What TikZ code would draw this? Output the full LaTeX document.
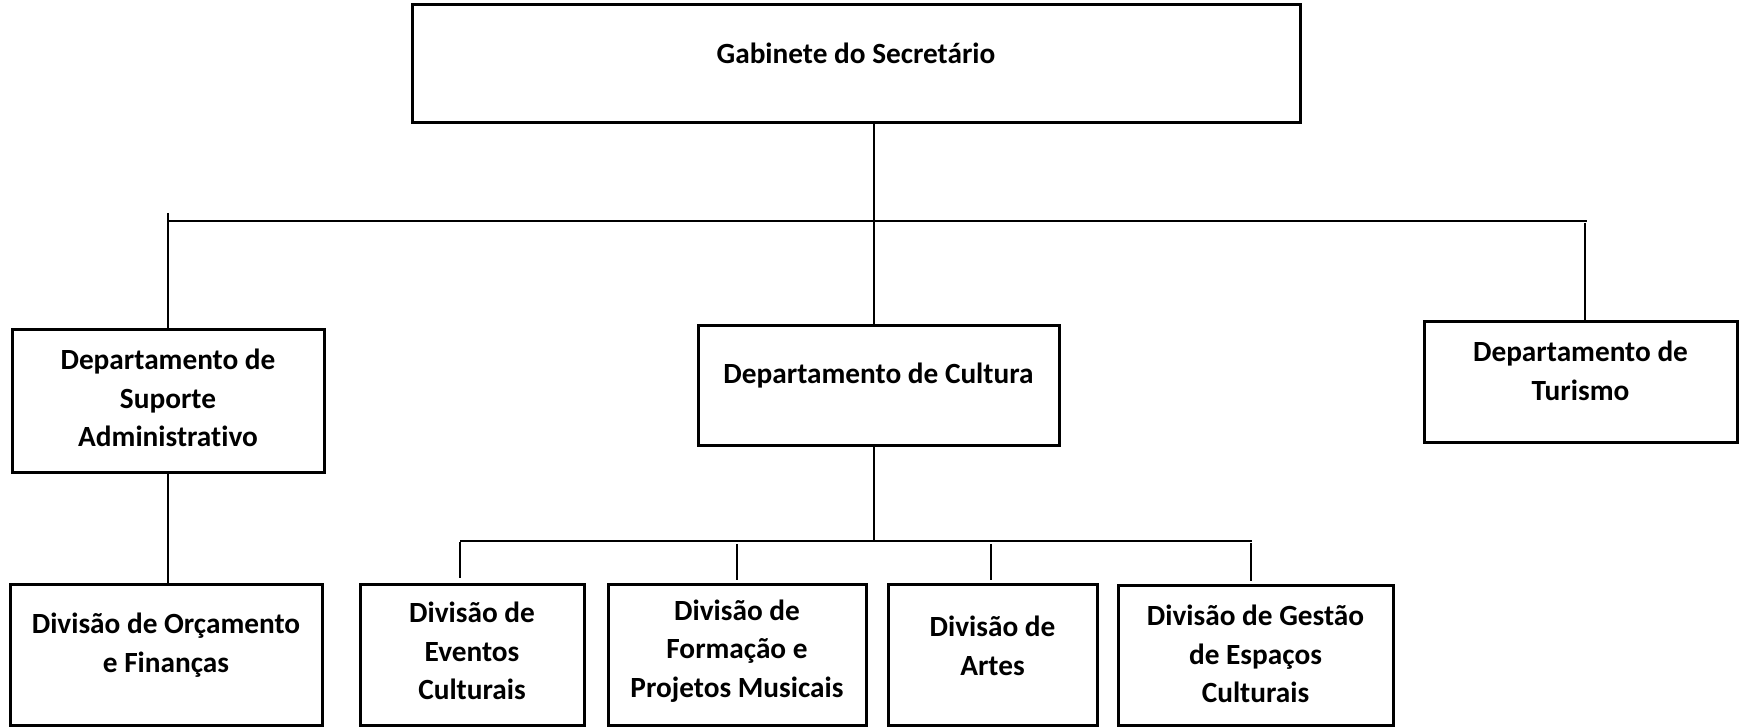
\documentclass[tikz,border=0pt]{standalone}
\usepackage{fontspec}
\setmainfont{Carlito}[Ligatures=NoCommon]
\begin{document}
\begin{tikzpicture}[x=1pt,y=-1pt,
  box/.style={draw=black, line width=3pt, inner sep=0pt, fill=none},
  txt/.style={align=center, inner sep=0pt, font=\fontsize{29.3pt}{38.5pt}\selectfont\bfseries},
  conn/.style={draw=black, line width=1.1pt}]
\useasboundingbox (0,0) rectangle (1748,727);
% boxes
\node[box, minimum width=888pt, minimum height=118pt] (gab) at (856,64) {};
\node[box, minimum width=312pt, minimum height=143pt] (dsa) at (168,400.5) {};
\node[box, minimum width=361pt, minimum height=120pt] (cul) at (878.5,385) {};
\node[box, minimum width=313pt, minimum height=121pt] (tur) at (1580.5,381.5) {};
\node[box, minimum width=312pt, minimum height=141pt] (orc) at (166,654.5) {};
\node[box, minimum width=224pt, minimum height=141pt] (eve) at (472,654.5) {};
\node[box, minimum width=258pt, minimum height=141pt] (for) at (737,654.5) {};
\node[box, minimum width=209pt, minimum height=141pt] (art) at (992.5,654.5) {};
\node[box, minimum width=275pt, minimum height=140pt] (ges) at (1255.5,655) {};
% texts
\node[txt] (gabT) at (856,53) {Gabinete do Secretário};
\node[txt] (dsaT) at (168,398) {Departamento de\\Suporte\\Administrativo};
\node[txt] (culT) at (878.5,376) {Departamento de Cultura};
\node[txt] (turT) at (1580.5,371) {Departamento de\\Turismo};
\node[txt] (orcT) at (166,645) {Divisão de Orçamento\\e Finanças};
\node[txt] (eveT) at (472,651) {Divisão de\\Eventos\\Culturais};
\node[txt] (forT) at (737,651) {Divisão de\\Formação e\\Projetos Musicais};
\node[txt] (artT) at (992.5,646) {Divisão de\\Artes};
\node[txt] (gesT) at (1255.5,654) {Divisão de Gestão\\de Espaços\\Culturais};
% junction coordinates
\coordinate (hL) at (168,221);
\coordinate (hR) at (1587,221);
\coordinate (jT) at (874,221);
\coordinate (lTop) at (168,213);
\coordinate (rTop) at (1585,223);
\coordinate (cJ) at (874,541);
\coordinate (bL) at (460,541);
\coordinate (bR) at (1252,541);
\coordinate (d1a) at (460,542); \coordinate (d1b) at (460,578);
\coordinate (d2a) at (737,544); \coordinate (d2b) at (737,580);
\coordinate (d3a) at (991,544); \coordinate (d3b) at (991,580);
\coordinate (d4a) at (1251,543); \coordinate (d4b) at (1251,581);
% connectors
\draw[conn] (gab.south -| jT) -- (cul.north -| jT);
\draw[conn] (hL) -- (hR);
\draw[conn] (lTop) -- (dsa.north -| lTop);
\draw[conn] (rTop) -- (tur.north -| rTop);
\draw[conn] (dsa.south) -- (orc.north -| dsa.south);
\draw[conn] (cul.south -| cJ) -- (cJ);
\draw[conn] (bL) -- (bR);
\draw[conn] (d1a) -- (d1b);
\draw[conn] (d2a) -- (d2b);
\draw[conn] (d3a) -- (d3b);
\draw[conn] (d4a) -- (d4b);
\end{tikzpicture}
\end{document}
